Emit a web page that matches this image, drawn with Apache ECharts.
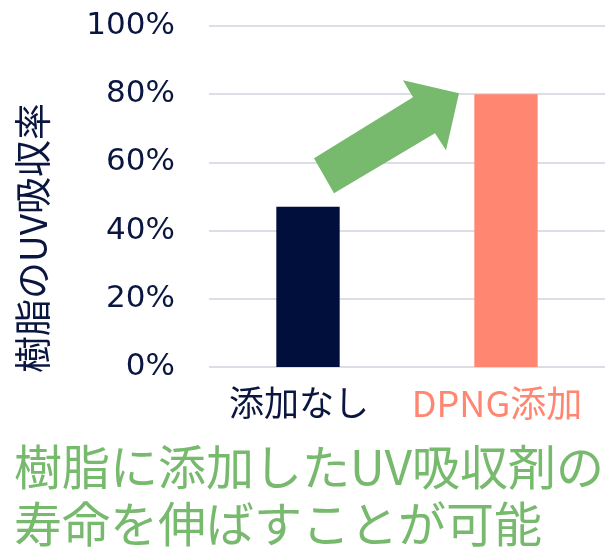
<!DOCTYPE html>
<html><head><meta charset="utf-8">
<script src="https://cdn.jsdelivr.net/npm/echarts@6/dist/echarts.min.js"></script>
<style>html,body{margin:0;padding:0;background:#fff}#c{width:615px;height:547px}</style>
</head><body><div id="c"></div>
<script>
const categories = ['添加なし', 'DPNG添加'];
const values = [47, 80];
const barColors = ['#010f3c', '#ff8671'];
const yTicks = [0, 20, 40, 60, 80, 100];
const yAxisName = '樹脂のUV吸収率';
const captionLines = ['樹脂に添加したUV吸収剤の', '寿命を伸ばすことが可能'];

const chart = echarts.init(document.getElementById('c'), null, {renderer: 'canvas'});
const navy = '#0a1640';
const green = '#77b96d';
const option = {
  animation: false,
  grid: {left: 209, right: 10, top: 26, bottom: 180, containLabel: false},
  xAxis: {
    type: 'category', data: categories,
    axisLine: {show: false}, axisTick: {show: false},
    axisLabel: {
      margin: 18, interval: 0,
      formatter: (v, i) => (i === 0 ? '{a|' : '{b|') + v + '}',
      rich: {
        a: {fontSize: 35, color: navy, fontFamily: 'Noto Sans CJK JP', padding: [0, 18, 0, 0]},
        b: {fontSize: 36, color: barColors[1], fontFamily: 'Noto Sans CJK JP', padding: [0, 18, 0, 0]}
      }
    }
  },
  yAxis: {
    type: 'value', min: 0, max: 100, interval: 20,
    axisLine: {show: false}, axisTick: {show: false},
    splitLine: {lineStyle: {color: '#d0d3dc', width: 1.5}},
    axisLabel: {
      margin: 34, fontSize: 31, color: navy, fontFamily: 'DejaVu Sans',
      formatter: v => yTicks.includes(v) ? v + '%' : ''
    }
  },
  series: [{
    type: 'bar', barWidth: '32%',
    data: values.map((v, i) => ({value: v, itemStyle: {color: barColors[i]}}))
  }]
};
chart.setOption(option);

// arrow anchored to top of second bar
const tip0 = chart.convertToPixel({gridIndex: 0}, [1, values[1]]);
const tx = tip0[0] - 47, ty = tip0[1] - 1;
const rel = [[-145, 65], [-46, 4], [-56, -13], [0, 0], [-13, 57], [-24, 40], [-125, 100]];
const pts = rel.map(p => [tx + p[0], ty + p[1]]);

chart.setOption({
  graphic: [
    {type: 'polygon', shape: {points: pts}, style: {fill: green}, z: 100},
    {type: 'text', x: 33, y: 238, rotation: Math.PI / 2,
     style: {text: yAxisName, fontSize: 37, fill: navy, fontFamily: 'Noto Sans CJK JP',
             align: 'center', verticalAlign: 'middle'}},
    {type: 'text', left: 14, top: 438,
     style: {text: captionLines.join('\n'), fontSize: 48, lineHeight: 57, fill: green,
             fontFamily: 'Noto Sans CJK JP'}}
  ]
});
</script></body></html>
